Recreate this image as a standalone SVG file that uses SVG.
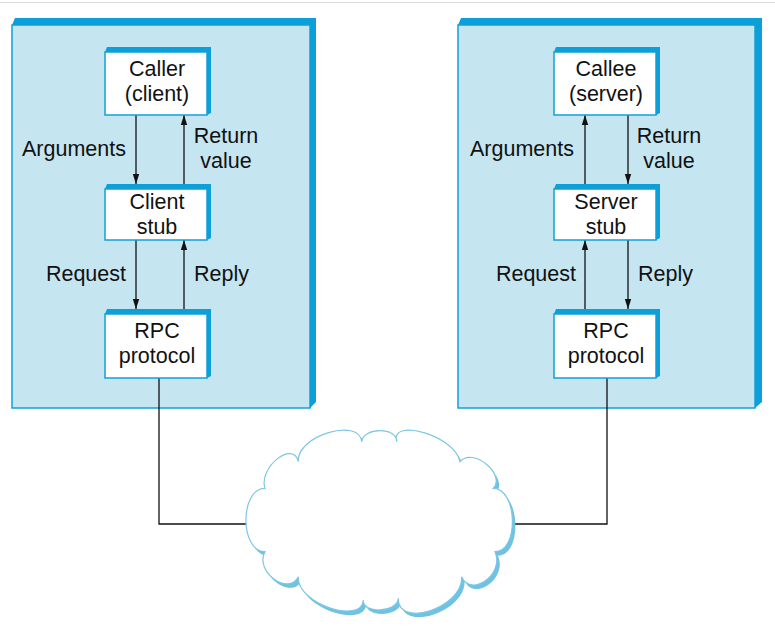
<svg xmlns="http://www.w3.org/2000/svg" width="775" height="626" viewBox="0 0 775 626">
<defs>
<style>
.panel{fill:#c5e5f0;stroke:#12a0d8;stroke-width:1.5}
.band{fill:#0c9fd8}
.box{fill:#ffffff;stroke:#12a0d8;stroke-width:1.5}
.t{font-family:"Liberation Sans",Arial,Helvetica,sans-serif;font-size:21.5px;fill:#111}
.c{text-anchor:middle}
.e{text-anchor:end}
.ln{stroke:#111;stroke-width:1.3;fill:none}
.cloud{fill:#ffffff;stroke:#7fc6e2;stroke-width:1.2}
.shadow{fill:#6ec3e4}
</style>
<marker id="ah" viewBox="0 0 10 10" refX="10" refY="5" markerWidth="10" markerHeight="10" markerUnits="userSpaceOnUse" orient="auto">
<path d="M0,1.8 L10,5 L0,8.2 z" fill="#111"/>
</marker>
<path id="cloudpath" d="M298.3,461.7 C296.3,435.2 359.7,417.2 361.7,441.7 C362.7,427 397.7,427 396.7,441.7 C389.7,417.2 455,435.2 460,461.7 C473,446.4 506.3,475 493.3,488.3 C517.6,488.3 519.3,551.7 495,551.7 C504.9,574.8 470.6,597.8 461.7,576.7 C462.7,608.7 397.3,628.3 398.3,598.3 C397.3,612.7 362.3,614.4 363.3,600 C362.3,625 296.3,603.7 298.3,576.7 C289.4,596.1 254.1,572.1 265,551.7 C239.6,551.7 239.6,488.3 265,488.3 C258.1,467.3 293.4,439.7 298.3,461.7 Z"/>
</defs>
<rect x="0" y="0" width="775" height="626" fill="#ffffff"/>
<line x1="0" y1="2.5" x2="775" y2="2.5" stroke="#dcdcdc" stroke-width="1"/>

<g id="client-machine">
<rect class="panel" x="12" y="25" width="298" height="383"/>
<polygon class="band" points="12,25 15,18 316,18 316,402 310,408 310,25"/>
</g>
<g id="server-machine">
<rect class="panel" x="458" y="25" width="297" height="383"/>
<polygon class="band" points="458,25 461,18 762,18 762,402 755,408 755,25"/>
</g>

<g id="connectors">
<line class="ln" x1="136" y1="115" x2="136" y2="184" marker-end="url(#ah)"/>
<line class="ln" x1="184" y1="184" x2="184" y2="115" marker-end="url(#ah)"/>
<line class="ln" x1="136" y1="240" x2="136" y2="309" marker-end="url(#ah)"/>
<line class="ln" x1="184" y1="309" x2="184" y2="240" marker-end="url(#ah)"/>
<line class="ln" x1="585" y1="184" x2="585" y2="115" marker-end="url(#ah)"/>
<line class="ln" x1="628" y1="115" x2="628" y2="184" marker-end="url(#ah)"/>
<line class="ln" x1="585" y1="309" x2="585" y2="240" marker-end="url(#ah)"/>
<line class="ln" x1="628" y1="240" x2="628" y2="309" marker-end="url(#ah)"/>
<polyline class="ln" points="159,378 159,524 260,524"/>
<polyline class="ln" points="607,378 607,524 500,524"/>
</g>

<g id="labels">
<text class="t e" x="126" y="156">Arguments</text>
<text class="t c" x="226" y="143">Return</text>
<text class="t c" x="226" y="168">value</text>
<text class="t e" x="126" y="281">Request</text>
<text class="t" x="194" y="281">Reply</text>
<text class="t e" x="574" y="156">Arguments</text>
<text class="t c" x="669" y="143">Return</text>
<text class="t c" x="669" y="168">value</text>
<text class="t e" x="576" y="281">Request</text>
<text class="t" x="638" y="281">Reply</text>
</g>

<g id="caller">
<rect class="box" x="105" y="52" width="102" height="63"/>
<polygon class="band" points="105,52 107,47 211,47 211,113 207,115 207,52"/>
<text class="t c" x="157" y="76">Caller</text>
<text class="t c" x="157" y="101">(client)</text>
</g>
<g id="client-stub">
<rect class="box" x="105" y="189" width="102" height="51"/>
<polygon class="band" points="105,189 107,184 211,184 211,238 207,240 207,189"/>
<text class="t c" x="157" y="209">Client</text>
<text class="t c" x="157" y="234">stub</text>
</g>
<g id="client-rpc">
<rect class="box" x="105" y="314" width="102" height="64"/>
<polygon class="band" points="105,314 107,309 211,309 211,376 207,378 207,314"/>
<text class="t c" x="157" y="338">RPC</text>
<text class="t c" x="157" y="363">protocol</text>
</g>

<g id="callee">
<rect class="box" x="554" y="52" width="102" height="63"/>
<polygon class="band" points="554,52 556,47 660,47 660,113 656,115 656,52"/>
<text class="t c" x="606" y="76">Callee</text>
<text class="t c" x="606" y="101">(server)</text>
</g>
<g id="server-stub">
<rect class="box" x="554" y="189" width="102" height="51"/>
<polygon class="band" points="554,189 556,184 660,184 660,238 656,240 656,189"/>
<text class="t c" x="606" y="209">Server</text>
<text class="t c" x="606" y="234">stub</text>
</g>
<g id="server-rpc">
<rect class="box" x="554" y="314" width="102" height="64"/>
<polygon class="band" points="554,314 556,309 660,309 660,376 656,378 656,314"/>
<text class="t c" x="606" y="338">RPC</text>
<text class="t c" x="606" y="363">protocol</text>
</g>

<g id="network">
<use href="#cloudpath" class="shadow" transform="translate(3,4)"/>
<use href="#cloudpath" class="cloud"/>
</g>
</svg>
